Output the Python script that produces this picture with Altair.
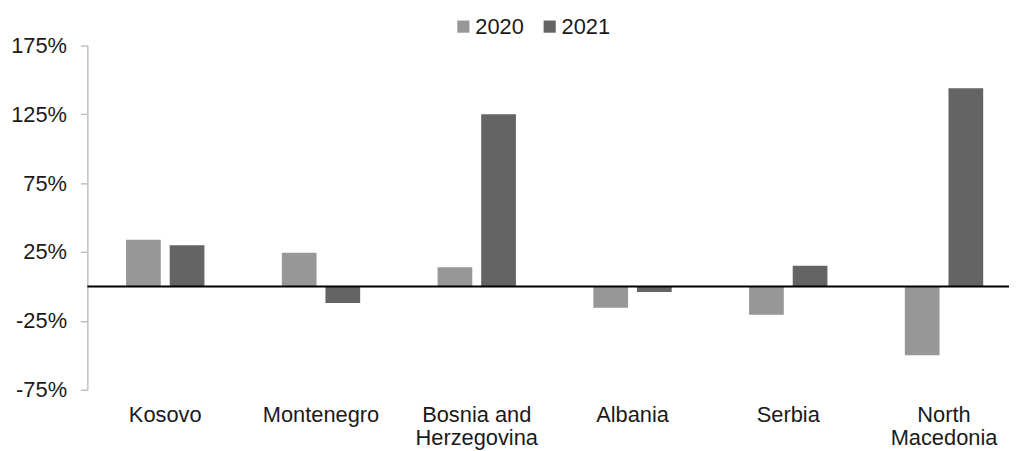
import altair as alt
import pandas as pd

countries = ["Kosovo", "Montenegro", "Bosnia and Herzegovina", "Albania", "Serbia", "North Macedonia"]
values_2020 = [34, 24.5, 14, -15.5, -20.5, -50]
values_2021 = [30, -12, 125, -4, 15, 144]
years = ["2020", "2021"]
colors = ["#979797", "#646464"]
y_ticks = [-75, -25, 25, 75, 125, 175]

rows = []
for c, a, b in zip(countries, values_2020, values_2021):
    rows.append({"country": c, "year": years[0], "value": a})
    rows.append({"country": c, "year": years[1], "value": b})
df = pd.DataFrame(rows)

FONT = "Liberation Sans"
TXT = "#1a1a1a"

label_expr = ("datum.label == 'Bosnia and Herzegovina' ? ['Bosnia and', 'Herzegovina'] : "
              "datum.label == 'North Macedonia' ? ['North', 'Macedonia'] : datum.label")

bars = alt.Chart(df).mark_bar().encode(
    x=alt.X(
        "country:N", sort=countries,
        scale=alt.Scale(paddingInner=0.497, paddingOuter=0.2485),
        axis=alt.Axis(title=None, labelAngle=0, domain=False, ticks=False,
                      labelPadding=15, labelFontSize=22, labelColor=TXT, labelFont=FONT,
                      labelExpr=label_expr, labelLineHeight=23, labelOverlap=False),
    ),
    xOffset=alt.XOffset("year:N", sort=years, scale=alt.Scale(paddingInner=0.2045, paddingOuter=0)),
    y=alt.Y(
        "value:Q",
        scale=alt.Scale(domain=[-75, 175], nice=False, zero=False),
        axis=alt.Axis(title=None, values=y_ticks, labelExpr="datum.value + '%'",
                      grid=False, tickSize=7, tickColor="#c0c0c0", domainColor="#c0c0c0",
                      domainWidth=1.5, tickWidth=1.5, labelPadding=14, labelFontSize=22,
                      labelColor=TXT, labelFont=FONT),
    ),
    color=alt.Color(
        "year:N",
        scale=alt.Scale(domain=years, range=colors),
        legend=alt.Legend(title=None, orient="none", legendX=368, legendY=-30,
                          direction="horizontal", symbolType="square", symbolSize=150,
                          symbolStrokeWidth=0, labelFontSize=22, labelFont=FONT,
                          labelColor=TXT, columnPadding=15, labelOffset=1, padding=0),
    ),
)

zero = alt.Chart(pd.DataFrame({"y": [0]})).mark_rule(color="black", strokeWidth=2).encode(
    y="y:Q"
)

chart = alt.layer(bars, zero).properties(
    width=942,
    height=347,
    autosize=alt.AutoSizeParams(type="none"),
    padding={"left": 80, "top": 36, "right": -13, "bottom": 60},
).configure_view(stroke=None)

chart.save("out.html", embed_options={"renderer": "svg", "actions": False})
